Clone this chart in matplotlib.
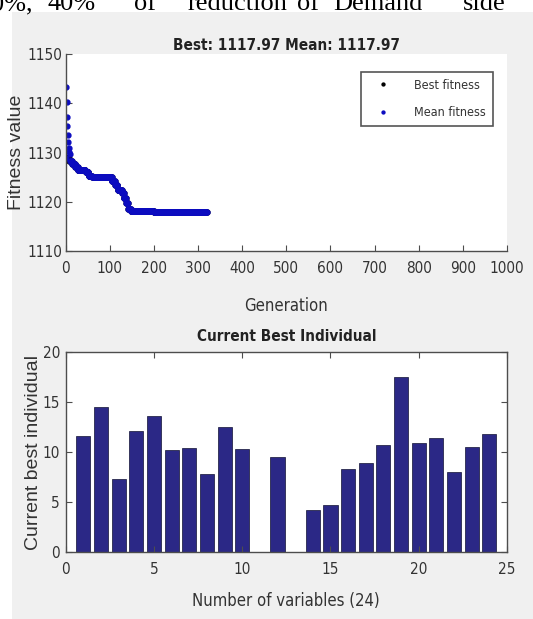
import numpy as np
import matplotlib.pyplot as plt
from matplotlib.patches import Rectangle

# fitness history, read as step levels (generation where the level starts, value)
best_starts = [0, 8, 15, 22, 28, 45, 52, 60, 105, 112, 118, 128, 132, 137, 142, 148, 200]
best_levels = [1128.8, 1128.3, 1127.7, 1127.0, 1126.4, 1126.0, 1125.2, 1125.0,
               1124.3, 1123.5, 1122.3, 1121.8, 1120.8, 1119.8, 1118.5, 1118.2, 1118.0]
last_gen = 320
mean_early = [1143.2, 1140.3, 1137.3, 1135.3, 1133.6, 1132.2, 1131.0, 1130.2, 1129.6]

# current best individual
var_idx = np.arange(1, 25)
var_vals = [11.6, 14.5, 7.3, 12.1, 13.6, 10.2, 10.4, 7.8, 12.5, 10.3, 0.0, 9.5,
            0.0, 4.2, 4.7, 8.3, 8.9, 10.7, 17.5, 10.9, 11.4, 8.0, 10.5, 11.8]

gens = np.arange(0, last_gen + 1)
best = np.repeat(best_levels, np.diff(best_starts + [last_gen + 1]))
mean = best.copy()
mean[1:1 + len(mean_early)] = mean_early

narrow = dict(family='DejaVu Sans', stretch='condensed')
wide = ['Liberation Sans', 'DejaVu Sans']
tcol = '#333333'
scol = '#4d4d4d'

fig = plt.figure(figsize=(5.33, 6.19), dpi=100)
fig.patch.set_facecolor('#f0f0f0')
# white page margin above and left of the screenshot
fig.patches.append(Rectangle((0, 1 - 12 / 619), 1, 12 / 619, transform=fig.transFigure,
                             facecolor='white', edgecolor='none', zorder=-1))
fig.patches.append(Rectangle((0, 0), 12 / 533, 1, transform=fig.transFigure,
                             facecolor='white', edgecolor='none', zorder=-1))

# clipped text line from the page above the figure
serif = ['Liberation Serif', 'DejaVu Serif']
words = [('40%', 48), ('of', 134), ('reduction', 188), ('of', 297), ('Demand', 333), ('side', 463)]
fig.text(33 / 533, 1 - 10 / 619, '0%,', ha='right', va='baseline', fontsize=19,
         family=serif, color='black')
for w, px in words:
    fig.text(px / 533, 1 - 10 / 619, w, ha='left', va='baseline', fontsize=19,
             family=serif, color='black')

ax1 = fig.add_axes([65.7 / 533, 1 - 251 / 619, (507 - 65.7) / 533, 197 / 619])
ax2 = fig.add_axes([65.7 / 533, 1 - 552.3 / 619, (507 - 65.7) / 533, 200.3 / 619])

ax1.plot(gens, best, '.', color='black', ms=7, label='Best fitness')
ax1.plot(gens, mean, '.', color='#0c0cc0', ms=7, label='Mean fitness')
ax1.set_xlim(0, 1000)
ax1.set_ylim(1110, 1150)
ax1.set_xticks(np.arange(0, 1001, 100))
ax1.set_yticks(np.arange(1110, 1151, 10))
ax1.spines['top'].set_visible(False)
ax1.spines['right'].set_visible(False)
ax1.set_title('Best: 1117.97 Mean: 1117.97', fontsize=11, fontweight='bold',
              color='#222222', pad=3, **narrow)
ax1.set_xlabel('Generation', fontsize=12, color=tcol, va='top', **narrow)
ax1.xaxis.set_label_coords(0.5, -0.235)
ax1.set_ylabel('Fitness value', fontsize=14, family=wide, color=tcol)
ax1.yaxis.set_label_coords(-0.092, 0.5)
leg = ax1.legend(loc='upper right', bbox_to_anchor=(0.968, 0.909), borderaxespad=0,
                 prop=dict(size=9, **narrow), numpoints=1, markerscale=0.6,
                 handlelength=2.4, handletextpad=1.3, borderpad=0.55, labelspacing=1.15,
                 fancybox=False, framealpha=1, edgecolor='#555555')
leg.get_frame().set_linewidth(1.2)
for t in leg.get_texts():
    t.set_color(tcol)

ax2.bar(var_idx, var_vals, width=0.8, color='#2b2886', edgecolor='#111133', linewidth=0.5)
ax2.set_xlim(0, 25)
ax2.set_ylim(0, 20)
ax2.set_xticks(np.arange(0, 26, 5))
ax2.set_yticks(np.arange(0, 21, 5))
ax2.set_title('Current Best Individual', fontsize=11, fontweight='bold',
              color='#222222', pad=8, **narrow)
ax2.set_xlabel('Number of variables (24)', fontsize=12, color=tcol, va='top', **narrow)
ax2.xaxis.set_label_coords(0.5, -0.198)
ax2.set_ylabel('Current best individual', fontsize=14, family=wide, color=tcol)
ax2.yaxis.set_label_coords(-0.054, 0.5)
ax2.tick_params(top=True, right=True)

for ax, ypad in ((ax1, 2.5), (ax2, 4)):
    ax.set_facecolor('white')
    for s in ax.spines.values():
        s.set_color(scol)
        s.set_linewidth(1.0)
    ax.tick_params(direction='in', length=4, width=0.8, color=scol, labelcolor=tcol,
                   labelsize=11)
    ax.tick_params(axis='x', pad=7)
    ax.tick_params(axis='y', pad=ypad)
    for lab in ax.get_xticklabels() + ax.get_yticklabels():
        lab.set_family(narrow['family'])
        lab.set_stretch(narrow['stretch'])

fig.savefig('out.png', dpi=100, facecolor=fig.get_facecolor())
